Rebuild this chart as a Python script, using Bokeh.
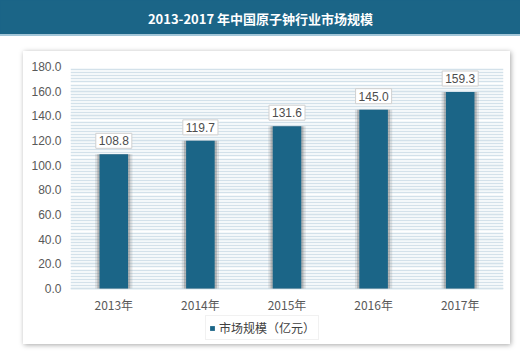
from bokeh.plotting import figure
from bokeh.models import (ColumnDataSource, Legend, LegendItem, SingleIntervalTicker,
                          NumeralTickFormatter, Range1d, CategoricalAxis)
from bokeh.layouts import column
from bokeh.core.properties import value
from bokeh.embed import file_html
from bokeh.resources import INLINE

title = "2013-2017 年中国原子钟行业市场规模"
years = ["2013年", "2014年", "2015年", "2016年", "2017年"]
market = [108.8, 119.7, 131.6, 145.0, 159.3]
series_name = "市场规模（亿元）"
y_ticks_step = 20
y_min, y_max = 0, 180

BLUE = "#1b6587"
GREY_TXT = "#595959"
NUM_FONT = "Liberation Sans"
CJK_FONT = "Noto Sans CJK SC"

# Header band
h = figure(width=520, height=36, x_range=Range1d(0, 1), y_range=Range1d(0, 1),
           x_axis_location=None, y_axis_location=None,
           output_backend="svg", toolbar_location=None, min_border=0,
           background_fill_color=BLUE, border_fill_color=BLUE, outline_line_color=None,
           styles={"border-bottom": "2px solid #a3c6d8", "background-color": BLUE})
h.grid.visible = False
title_x = 0.5
if "frame_align" in h.properties():
    h.frame_align = False
else:
    title_x = (260 - 47) / (520 - 47)
h.text(x=[title_x], y=[0.5], text=[title], text_align="center", text_baseline="middle",
       text_color="white", text_font=value(CJK_FONT), text_font_style="bold",
       text_font_size="13px")

# Main chart: the frame extends below zero to hold the category labels and legend
FRAME_H = 276          # px
PLOT_H = 222           # px between 0 and 180
extra = (FRAME_H - PLOT_H) * (y_max - y_min) / PLOT_H

src = ColumnDataSource(dict(year=years, v=market, lab=[f"{x:.1f}" for x in market]))
p = figure(width=487, height=293, x_range=years, y_range=Range1d(y_min - extra, y_max),
           output_backend="svg", toolbar_location=None, x_axis_location=None,
           min_border_left=47, min_border_right=7, min_border_top=15, min_border_bottom=2,
           outline_line_color=None, background_fill_color="white", border_fill_color="white",
           margin=(15, 10, 0, 23),
           styles={"box-shadow": "1px 1px 5px rgba(0,0,0,0.35)"})
p.x_range.range_padding = 0
if "frame_align" in p.properties():
    p.frame_align = False

xax = CategoricalAxis(fixed_location=y_min)
p.add_layout(xax, "below")

p.yaxis.ticker = SingleIntervalTicker(interval=y_ticks_step, num_minor_ticks=8)
p.yaxis.formatter = NumeralTickFormatter(format="0.0")
p.yaxis.bounds = (y_min, y_max)
for ax in (xax, p.yaxis[0]):
    ax.axis_line_color = None
    ax.major_tick_line_color = None
    ax.minor_tick_line_color = None
    ax.major_label_text_color = GREY_TXT
    ax.major_label_text_font_size = "12px"
    ax.major_label_text_font = NUM_FONT
p.yaxis.major_label_standoff = 3
xax.major_label_standoff = 1
xax.major_label_text_font = CJK_FONT

p.xgrid.visible = False
p.ygrid.bounds = (y_min, y_max)
p.ygrid.grid_line_color = "#d3e1ea"
p.ygrid.grid_line_width = 1.5
p.ygrid.minor_grid_line_color = "#d3e1ea"
p.ygrid.minor_grid_line_width = 1.5

# soft shadow behind bars
p.vbar(x="year", top="v", width=0.43, source=src, fill_color="#7f7f7f", fill_alpha=0.2,
       line_color=None)
p.vbar(x="year", top="v", width=0.38, source=src, fill_color="#666666", fill_alpha=0.35,
       line_color=None)
r = p.vbar(x="year", top="v", width=0.33, source=src, fill_color=BLUE, line_color=None)

p.text(x="year", y="v", text="lab", source=src, text_align="center",
       text_baseline="bottom", y_offset=-6, text_font_size="12px",
       text_font=value(NUM_FONT), text_color="#4d4d4d",
       background_fill_color="white", border_line_color="#d0d0d0", padding=3)

legend = Legend(items=[LegendItem(label=series_name, renderers=[r])], orientation="horizontal",
                location=(135, 2), label_text_font=CJK_FONT, label_text_font_size="12px",
                label_text_color="#404040", glyph_width=6, glyph_height=6,
                label_height=13, border_line_color="#e3e3e3", margin=0, padding=3,
                spacing=4, label_standoff=4)
p.add_layout(legend)

layout = column(h, p, spacing=0)
open("out.html", "w").write(file_html(layout, INLINE))
